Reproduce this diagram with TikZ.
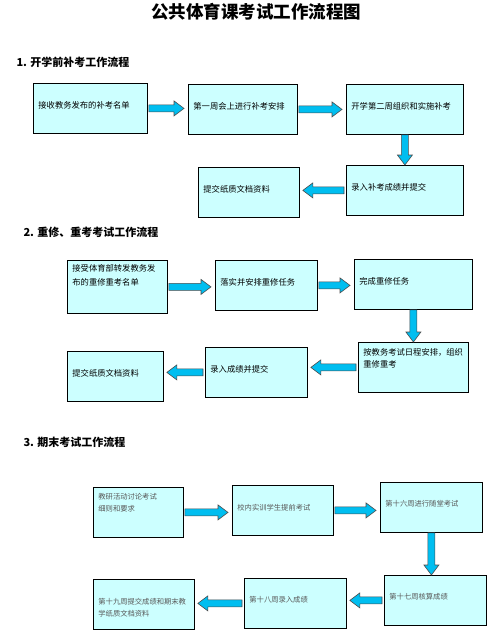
\documentclass[tikz,border=0pt]{standalone}
\usepackage{fontspec}
\setmainfont{Noto Sans CJK SC}
\usetikzlibrary{calc}
\definecolor{boxfill}{RGB}{204,255,255}
\definecolor{arrowfill}{RGB}{0,190,240}
\tikzstyle{fbox}    = [draw=black, fill=boxfill, line width=0.8pt, anchor=north west, minimum height=50pt, inner xsep=5pt, align=left, font=\fontsize{8.3}{14}\selectfont, text depth=7pt]
\tikzstyle{late}    = [font=\fontsize{7.3}{12}\selectfont, text=black!65]
\tikzstyle{barrow}  = [fill=arrowfill, draw=black!70, line width=0.6pt]
\tikzstyle{heading} = [anchor=west, font=\fontsize{11}{13}\selectfont\bfseries]
\def\flowbox#1#2#3#4#5#6{
  \node[fbox, minimum width=#5pt, text width=\the\dimexpr#5pt-10pt\relax, #1] (#2) at (#3,#4) {#6};
}
\def\blockarrow#1#2{
  \coordinate (tl) at #1;
  \coordinate (tp) at #2;
  \coordinate (hb) at ($(tp)!10pt!(tl)$);
  \draw[barrow] ($(tl)!3.5pt!90:(tp)$) -- ($(hb)!3.5pt!90:(tp)$) -- ($(hb)!7.5pt!90:(tp)$) -- (tp)
    -- ($(hb)!7.5pt!-90:(tp)$) -- ($(hb)!3.5pt!-90:(tp)$) -- ($(tl)!3.5pt!-90:(tp)$) -- cycle;
}
\def\rarr#1#2{\blockarrow{($(#1.east)+(1,0)$)}{($(#1.east -| #2.west)+(-4,0)$)}}
\def\larr#1#2{\blockarrow{($(#1.west)+(-2,0)$)}{($(#1.west -| #2.east)+(3,0)$)}}
\def\darr#1#2{\blockarrow{(#1.south)}{(#1.south |- #2.north)}}

\begin{document}
\begin{tikzpicture}[x=1pt, y=-1pt]
  \useasboundingbox (0,0) rectangle (499,637);
  \node[font=\fontsize{17.5}{20}\selectfont\bfseries] (title) at (256,12) {公共体育课考试工作流程图};

  \node[heading] (h1) at (13,62) {1. 开学前补考工作流程};
  \flowbox{}{a1}{33}{83}{114}{接收教务发布的补考名单}
  \flowbox{}{a2}{188}{84}{109}{第一周会上进行补考安排}
  \flowbox{}{a3}{346}{84}{117}{开学第二周组织和实施补考}
  \flowbox{}{a4}{346}{165}{117}{录入补考成绩并提交}
  \flowbox{}{a5}{198}{167}{101}{提交纸质文档资料}
  \rarr{a1}{a2}
  \rarr{a2}{a3}
  \darr{a3}{a4}
  \larr{a4}{a5}

  \node[heading] (h2) at (20,232) {2. 重修、重考考试工作流程};
  \flowbox{minimum height=53pt, text depth=38pt}{b1}{67}{260}{100}{接受体育部转发教务发\\布的重修重考名单}
  \flowbox{}{b2}{215}{260}{102}{落实并安排重修任务}
  \flowbox{}{b3}{354}{259}{118}{完成重修任务}
  \flowbox{font=\fontsize{8.3}{12}\selectfont, text depth=31pt}{b4}{358}{342}{110}{按教务考试日程安排，组织\\重修重考}
  \flowbox{}{b5}{205}{347}{102}{录入成绩并提交}
  \flowbox{}{b6}{67}{351}{96}{提交纸质文档资料}
  \rarr{b1}{b2}
  \rarr{b2}{b3}
  \darr{b3}{b4}
  \larr{b4}{b5}
  \larr{b5}{b6}

  \node[heading] (h3) at (20,442) {3. 期末考试工作流程};
  \flowbox{late, text depth=31pt}{c1}{93}{487}{90}{教研活动讨论考试\\细则和要求}
  \flowbox{late}{c2}{232}{485}{101}{校内实训学生提前考试}
  \flowbox{late}{c3}{380}{482}{102}{第十六周进行随堂考试}
  \flowbox{late}{c4}{384}{575}{102}{第十七周核算成绩}
  \flowbox{late}{c5}{244}{578}{102}{第十八周录入成绩}
  \flowbox{late}{c6}{93}{579}{101}{第十九周提交成绩和期末教\\学纸质文档资料}
  \rarr{c1}{c2}
  \rarr{c2}{c3}
  \darr{c3}{c4}
  \larr{c4}{c5}
  \larr{c5}{c6}
\end{tikzpicture}
\end{document}
